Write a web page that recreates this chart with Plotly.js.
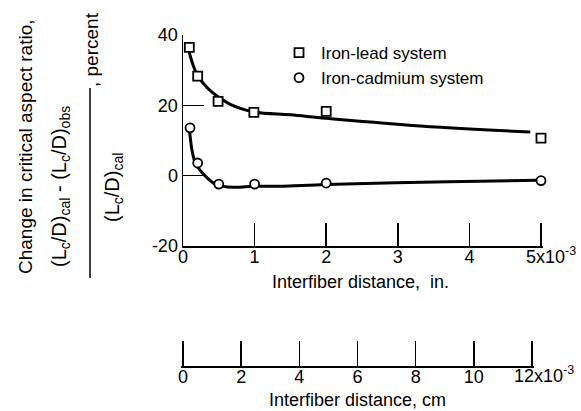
<!DOCTYPE html>
<html><head><meta charset="utf-8">
<script src="https://cdn.plot.ly/plotly-3.0.1.min.js"></script>
<style>html,body{margin:0;padding:0;background:#fff}#chart{width:581px;height:411px}</style>
</head><body><div id="chart"></div>
<script>
// Measured points (x in 10^-3 in., y in percent)
const leadX = [0.088, 0.205, 0.49, 0.99, 2.0, 5.0];
const leadY = [36.5, 28.3, 21.1, 18.0, 18.3, 10.7];
const cadX  = [0.098, 0.205, 0.5, 1.0, 2.0, 5.0];
const cadY  = [13.6, 3.6, -2.4, -2.4, -2.1, -1.4];
// Faired curves
const leadCurveX = [0.07, 0.2, 0.4, 0.66, 1.0, 1.5, 2.0, 3.2, 4.85];
const leadCurveY = [36.4, 28.6, 23.8, 20.3, 18.1, 17.3, 16.3, 14.3, 12.4];
const cadCurveX  = [0.088, 0.17, 0.33, 0.47, 0.7, 1.0, 1.35, 2.0, 3.7, 4.95];
const cadCurveY  = [13.8, 3.8, -0.5, -2.6, -3.3, -3.0, -3.0, -2.5, -1.7, -1.3];
// Tick labels
const inTickVals = [0, 1, 2, 3, 4, 5];
const inTickText = ['0', '1', '2', '3', '4', ' '];
const cmTickVals = [0, 2, 4, 6, 8, 10, 12];
const cmTickText = ['0', '2', '4', '6', '8', '10', ' '];
const yTickVals = [-20, 0, 20, 40];
const yTickText = ['-20', '0', '20', '40'];
const seriesNames = ['Iron-lead system', 'Iron-cadmium system'];

const W = 581, H = 411;
const px = v => v / W, py = v => 1 - v / H;
const FONT = 'Liberation Sans, Arial, sans-serif';

const axisCommon = {
  showline: true, linecolor: '#000', linewidth: 1.5, mirror: false,
  ticks: 'inside', tickcolor: '#000', tickwidth: 1.5,
  showgrid: false, zeroline: false, fixedrange: true,
  tickfont: {family: FONT, size: 18, color: '#000'}
};

const traces = [
  {x: leadCurveX, y: leadCurveY, mode: 'lines', line: {color: '#000', width: 3, shape: 'spline', smoothing: 1}, showlegend: false, hoverinfo: 'skip'},
  {x: cadCurveX, y: cadCurveY, mode: 'lines', line: {color: '#000', width: 3, shape: 'spline', smoothing: 1}, showlegend: false, hoverinfo: 'skip'},
  {x: leadX, y: leadY, mode: 'markers', name: seriesNames[0], cliponaxis: false,
   marker: {symbol: 'square', size: 9, color: '#fff', line: {color: '#000', width: 1.8}}},
  {x: cadX, y: cadY, mode: 'markers', name: seriesNames[1], cliponaxis: false,
   marker: {symbol: 'circle', size: 9, color: '#fff', line: {color: '#000', width: 1.8}}},
  // empty trace so that the centimetre scale (xaxis2) gets drawn
  {x: [], y: [], xaxis: 'x2', yaxis: 'y', mode: 'markers', showlegend: false, hoverinfo: 'skip'}
];

const tf = {family: FONT, size: 18, color: '#000'};
const lf = {family: FONT, size: 17, color: '#000'};
const yf = {family: FONT, size: 19, color: '#000'};
const ff = {family: FONT, size: 20, color: '#000'};
// inch axis: 0 at 183 px, 5 at 541 px; range pushed a little past 5 so its inside tick is kept
const inPx = (541 - 183) / 5;
// cm axis: 0 at 183 px, 12 at 532 px; range padded a little at both ends
const cmPx = (532 - 183) / 12;
const layout = {
  width: W, height: H, margin: {l: 0, r: 0, t: 0, b: 0},
  paper_bgcolor: '#fff', plot_bgcolor: 'rgba(0,0,0,0)',
  font: tf,
  xaxis: Object.assign({}, axisCommon, {domain: [px(183), px(183 + 5.03 * inPx)], range: [0, 5.03], anchor: 'y',
    ticklen: 23, tickvals: inTickVals, ticktext: inTickText, ticklabelstandoff: -6}),
  yaxis: Object.assign({}, axisCommon, {domain: [py(246), py(35)], range: [-20, 40], anchor: 'x',
    ticklen: 21, tickvals: yTickVals, ticktext: yTickText}),
  xaxis2: Object.assign({}, axisCommon, {domain: [px(183 - 0.06 * cmPx), px(183 + 12.06 * cmPx)], range: [-0.06, 12.06], anchor: 'free',
    position: py(366), ticklen: 25, tickvals: cmTickVals, ticktext: cmTickText, ticklabelstandoff: -6}),
  legend: {x: px(277), y: py(35), xanchor: 'left', yanchor: 'top', bgcolor: 'rgba(0,0,0,0)',
    font: lf, tracegroupgap: 0, itemwidth: 34},
  shapes: [
    {type: 'line', xref: 'paper', yref: 'paper', x0: px(90), x1: px(90), y0: py(88), y1: py(278),
     line: {color: '#000', width: 1.5}}
  ],
  annotations: [
    {text: '5x10<sup>-3</sup>', xref: 'paper', yref: 'paper', x: px(524), y: py(255), xanchor: 'left', yanchor: 'middle', showarrow: false, font: tf},
    {text: '12x10<sup>-3</sup>', xref: 'paper', yref: 'paper', x: px(512), y: py(374), xanchor: 'left', yanchor: 'middle', showarrow: false, font: tf},
    {text: 'Interfiber distance,  in.', xref: 'paper', yref: 'paper', x: px(360), y: py(282), xanchor: 'center', yanchor: 'middle', showarrow: false, font: tf},
    {text: 'Interfiber distance, cm', xref: 'paper', yref: 'paper', x: px(357), y: py(400), xanchor: 'center', yanchor: 'middle', showarrow: false, font: tf},
    {text: 'Change in critical aspect ratio,', textangle: -90, xref: 'paper', yref: 'paper', x: px(25), y: py(147), xanchor: 'center', yanchor: 'middle', showarrow: false, font: yf},
    {text: '(L<sub>c</sub>/D)<sub>cal</sub> - (L<sub>c</sub>/D)<sub>obs</sub>', textangle: -90, xref: 'paper', yref: 'paper', x: px(60), y: py(187), xanchor: 'center', yanchor: 'middle', showarrow: false, font: ff},
    {text: '(L<sub>c</sub>/D)<sub>cal</sub>', textangle: -90, xref: 'paper', yref: 'paper', x: px(113), y: py(188), xanchor: 'center', yanchor: 'middle', showarrow: false, font: ff},
    {text: ', percent', textangle: -90, xref: 'paper', yref: 'paper', x: px(92), y: py(50), xanchor: 'center', yanchor: 'middle', showarrow: false, font: yf}
  ]
};

Plotly.newPlot('chart', traces, layout, {displayModeBar: false, staticPlot: true});
</script>
</body></html>
